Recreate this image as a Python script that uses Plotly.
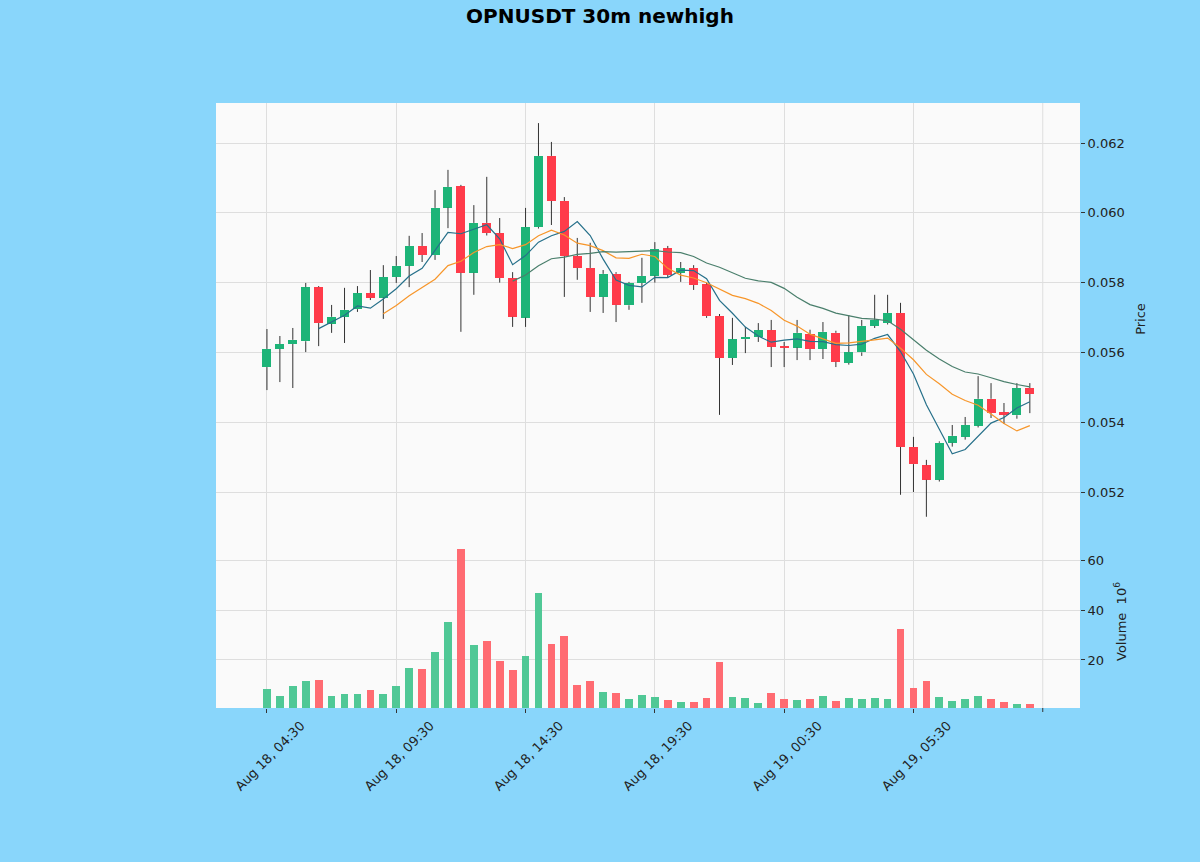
import pandas as pd
import plotly.graph_objects as go
from plotly.subplots import make_subplots

# OPNUSDT 30m candles, Aug 18 04:30 -> Aug 19 10:00
opens = [0.05558, 0.05610, 0.05624, 0.05632, 0.05787, 0.05682, 0.05702, 0.05724, 0.05770, 0.05757,
         0.05816, 0.05848, 0.05905, 0.05879, 0.06015, 0.06076, 0.05828, 0.05971, 0.05942, 0.05813,
         0.05700, 0.05959, 0.06163, 0.06034, 0.05876, 0.05842, 0.05759, 0.05825, 0.05735, 0.05799,
         0.05820, 0.05898, 0.05828, 0.05842, 0.05795, 0.05704, 0.05584, 0.05638, 0.05644, 0.05664,
         0.05618, 0.05614, 0.05652, 0.05610, 0.05656, 0.05570, 0.05600, 0.05676, 0.05684, 0.05713,
         0.05329, 0.05277, 0.05235, 0.05341, 0.05358, 0.05390, 0.05467, 0.05429, 0.05420, 0.05498]
highs = [0.05667, 0.05647, 0.05670, 0.05799, 0.05790, 0.05736, 0.05785, 0.05790, 0.05836, 0.05850,
         0.05876, 0.05934, 0.05942, 0.06065, 0.06123, 0.06080, 0.06022, 0.06103, 0.05985, 0.05830,
         0.06014, 0.06257, 0.06203, 0.06045, 0.05928, 0.05914, 0.05836, 0.05830, 0.05802, 0.05871,
         0.05916, 0.05905, 0.05859, 0.05850, 0.05800, 0.05710, 0.05699, 0.05673, 0.05684, 0.05693,
         0.05630, 0.05693, 0.05665, 0.05687, 0.05662, 0.05707, 0.05693, 0.05765, 0.05765, 0.05742,
         0.05358, 0.05292, 0.05345, 0.05392, 0.05415, 0.05532, 0.05512, 0.05455, 0.05512, 0.05512]
lows = [0.05492, 0.05515, 0.05498, 0.05601, 0.05618, 0.05656, 0.05627, 0.05716, 0.05750, 0.05696,
        0.05799, 0.05787, 0.05859, 0.05865, 0.05956, 0.05659, 0.05765, 0.05935, 0.05800, 0.05673,
        0.05673, 0.05955, 0.05965, 0.05759, 0.05808, 0.05716, 0.05713, 0.05687, 0.05722, 0.05742,
        0.05800, 0.05815, 0.05802, 0.05779, 0.05699, 0.05421, 0.05564, 0.05598, 0.05630, 0.05558,
        0.05558, 0.05578, 0.05578, 0.05581, 0.05558, 0.05565, 0.05590, 0.05670, 0.05680, 0.05192,
        0.05200, 0.05129, 0.05230, 0.05330, 0.05350, 0.05385, 0.05412, 0.05395, 0.05410, 0.05426]
closes = [0.05610, 0.05624, 0.05636, 0.05787, 0.05684, 0.05702, 0.05722, 0.05770, 0.05756, 0.05816,
          0.05848, 0.05905, 0.05879, 0.06014, 0.06074, 0.05828, 0.05971, 0.05942, 0.05813, 0.05702,
          0.05959, 0.06163, 0.06034, 0.05876, 0.05842, 0.05759, 0.05825, 0.05736, 0.05799, 0.05819,
          0.05896, 0.05822, 0.05842, 0.05793, 0.05704, 0.05584, 0.05638, 0.05644, 0.05664, 0.05616,
          0.05613, 0.05656, 0.05610, 0.05659, 0.05573, 0.05601, 0.05676, 0.05693, 0.05713, 0.05329,
          0.05280, 0.05235, 0.05341, 0.05361, 0.05392, 0.05467, 0.05426, 0.05421, 0.05498, 0.05481]
# volume in millions
volumes = [8.2, 5.4, 9.6, 11.5, 11.9, 5.4, 6.2, 6.2, 7.8, 6.2,
           9.5, 16.6, 16.2, 23.1, 35.3, 64.8, 26.1, 27.5, 19.4, 15.8,
           21.6, 46.8, 26.4, 29.6, 10.1, 11.5, 7.2, 6.9, 4.1, 5.8,
           5.1, 3.8, 3.1, 3.1, 4.7, 19.3, 5.1, 4.7, 2.7, 6.8,
           4.1, 3.8, 4.1, 5.4, 3.5, 4.5, 4.1, 4.5, 4.1, 32.6,
           8.8, 11.6, 5.1, 3.4, 4.1, 5.5, 4.1, 3.1, 2.2, 2.4]

tick_pos = [0, 10, 20, 30, 40, 50]
tick_labels = ["Aug 18, 04:30", "Aug 18, 09:30", "Aug 18, 14:30", "Aug 18, 19:30",
               "Aug 19, 00:30", "Aug 19, 05:30"]
blank_tick = 60  # last locator position, no label
mav_periods = [5, 10, 20]
mav_colors = ["#26708a", "#f7962a", "#4a7f6c"]

UP = "#1db478"
DOWN = "#ff3b4a"
UP_VOL = "#50c896"
DOWN_VOL = "#ff6b72"

W, H = 1200, 862
X0, X1 = 216, 1080          # plot area, pixels
Y_TOP, Y_MID, Y_BOT = 103, 535, 708

df = pd.DataFrame({"open": opens, "high": highs, "low": lows, "close": closes, "volume": volumes})
df["x"] = range(len(df))
df["top"] = df[["open", "close"]].max(axis=1)
df["bot"] = df[["open", "close"]].min(axis=1)
df["up"] = df["close"] >= df["open"]

fig = make_subplots(rows=2, cols=1, shared_xaxes=True, vertical_spacing=0)

# wicks (above and below the body so they stay behind it)
wx, wy = [], []
for _, r in df.iterrows():
    wx += [r.x, r.x, None, r.x, r.x, None]
    wy += [r.top, r.high, None, r.bot, r.low, None]
fig.add_trace(go.Scatter(x=wx, y=wy, mode="lines", line=dict(color="#333333", width=1),
                         hoverinfo="skip", showlegend=False), row=1, col=1)

# candle bodies
fig.add_trace(go.Bar(x=df["x"], y=df["top"] - df["bot"], base=df["bot"], width=0.7,
                     marker=dict(color=[UP if u else DOWN for u in df["up"]], line=dict(width=0)),
                     showlegend=False), row=1, col=1)

# moving averages
for period, color in zip(mav_periods, mav_colors):
    fig.add_trace(go.Scatter(x=df["x"], y=df["close"].rolling(period).mean(), mode="lines",
                             line=dict(color=color, width=1.2), showlegend=False), row=1, col=1)

# volume
fig.add_trace(go.Bar(x=df["x"], y=df["volume"], width=0.6,
                     marker=dict(color=[UP_VOL if u else DOWN_VOL for u in df["up"]], line=dict(width=0)),
                     showlegend=False), row=2, col=1)

font = dict(family="DejaVu Sans", size=13, color="#222222")
grid = "#dedede"
xrange = [-3.94, 62.88]

# unlabeled last tick: grid line in both panels + tick mark
for yref in ["y domain", "y2 domain"]:
    fig.add_shape(type="line", xref="x2", yref=yref, x0=blank_tick, x1=blank_tick, y0=0, y1=1,
                  line=dict(color=grid, width=1), layer="below")
fig.add_shape(type="line", xref="x2", yref="paper", x0=blank_tick, x1=blank_tick,
              y0=(H - Y_BOT) / H, y1=(H - Y_BOT - 4) / H, line=dict(color="#333333", width=1))

fig.update_layout(
    width=W, height=H,
    paper_bgcolor="#89d6fb",
    plot_bgcolor="#fafafa",
    font=font,
    margin=dict(l=0, r=0, t=0, b=0),
    bargap=0,
    title=dict(text="<b>OPNUSDT 30m newhigh</b>", x=0.5, xanchor="center",
               y=1 - 16 / H, yanchor="middle", font=dict(family="DejaVu Sans", size=20, color="#000000")),
    xaxis=dict(domain=[X0 / W, X1 / W], range=xrange, tickvals=tick_pos,
               showticklabels=False, showgrid=True, gridcolor=grid, zeroline=False, ticks="",
               automargin=False),
    xaxis2=dict(domain=[X0 / W, X1 / W], range=xrange, tickvals=tick_pos, ticktext=tick_labels,
                tickangle=-45, ticklabelshift=34, showgrid=True, gridcolor=grid, zeroline=False,
                ticks="outside", ticklen=4, tickcolor="#333333", automargin=False),
    yaxis=dict(domain=[(H - Y_MID) / H, (H - Y_TOP) / H], range=[0.050768, 0.063146],
               side="right", tickvals=[0.052, 0.054, 0.056, 0.058, 0.060, 0.062], tickformat=".3f",
               showgrid=True, gridcolor=grid, zeroline=False, ticks="outside", ticklen=4,
               tickcolor="#333333", automargin=False,
               title=dict(text="Price", standoff=12, font=dict(size=13))),
    yaxis2=dict(domain=[(H - Y_BOT) / H, (H - Y_MID) / H], range=[0.66, 70.3],
                side="right", tickvals=[20, 40, 60], showgrid=True, gridcolor=grid, zeroline=False,
                ticks="outside", ticklen=4, tickcolor="#333333", automargin=False,
                title=dict(text="Volume  10<sup>6</sup>", standoff=13, font=dict(size=13))),
)

fig.write_html("out.html", config={"displayModeBar": False},
               post_script="document.body.style.margin='0';")
